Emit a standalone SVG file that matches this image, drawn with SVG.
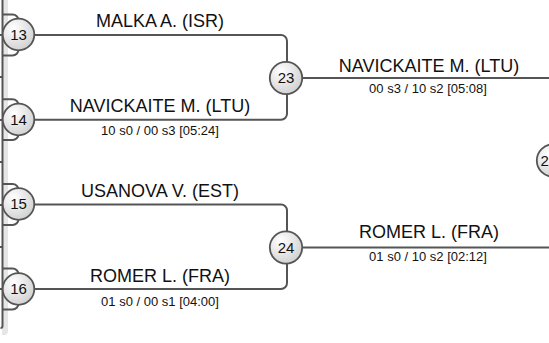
<svg xmlns="http://www.w3.org/2000/svg" width="549" height="343" viewBox="0 0 549 343">
<defs>
<radialGradient id="g" cx="0.35" cy="0.3" r="0.8">
<stop offset="0" stop-color="#ffffff"/>
<stop offset="1" stop-color="#cdcdcd"/>
</radialGradient>
<style>
.ln{fill:none;stroke:#555;stroke-width:2}
.nd circle{fill:url(#g);stroke:#555;stroke-width:1.8}
.num{font-family:"Liberation Sans",Arial,sans-serif;font-size:15px;fill:#111;text-anchor:middle}
.nm{font-family:"Liberation Sans",Arial,sans-serif;font-size:18px;fill:#111;text-anchor:middle}
.sc{font-family:"Liberation Sans",Arial,sans-serif;font-size:13px;fill:#111;text-anchor:middle}
</style>
</defs>
<rect x="0" y="0" width="549" height="343" fill="#fff"/>
<path d="M2 -5 H8 V331 a4 4 0 0 1 -4 4 H2 Z" fill="#e6e6e6"/>
<g id="connectors">
<path class="ln" d="M2.5 0 V326 a2 2 0 0 1 -2 2"/>
<path class="ln" d="M0 35 H2 M0 77 H2 M0 120 H2 M0 162 H2 M0 205 H2 M0 247 H2 M0 289 H2" stroke-width="1.5"/>
<path class="ln" d="M2.5 14.5 H12.5 a6 6 0 0 1 6 6 V35 M2.5 55.5 H12.5 a6 6 0 0 0 6 -6 V35"/>
<path class="ln" d="M2.5 99.2 H12.5 a6 6 0 0 1 6 6 V120 M2.5 140 H12.5 a6 6 0 0 0 6 -6 V120"/>
<path class="ln" d="M2.5 184 H12.5 a6 6 0 0 1 6 6 V205 M2.5 225 H12.5 a6 6 0 0 0 6 -6 V205"/>
<path class="ln" d="M2.5 268.5 H12.5 a6 6 0 0 1 6 6 V289 M2.5 309.5 H12.5 a6 6 0 0 0 6 -6 V289"/>
<path class="ln" d="M18.5 35 H281 a6 6 0 0 1 6 6 V113.7 a6 6 0 0 1 -6 6 H18.5"/>
<path class="ln" d="M18.5 204.5 H281 a6 6 0 0 1 6 6 V283 a6 6 0 0 1 -6 6 H18.5"/>
<path class="ln" d="M286 78 H549 M286 247.5 H549"/>
</g>
<g id="n13" class="nd"><circle cx="18.5" cy="34.5" r="15.8"/><text class="num" x="18.5" y="39.8">13</text></g>
<g id="n14" class="nd"><circle cx="18.5" cy="119.5" r="15.8"/><text class="num" x="18.5" y="124.8">14</text></g>
<g id="n15" class="nd"><circle cx="18.5" cy="204" r="15.8"/><text class="num" x="18.5" y="209.3">15</text></g>
<g id="n16" class="nd"><circle cx="18.5" cy="289" r="15.8"/><text class="num" x="18.5" y="294.3">16</text></g>
<g id="n23" class="nd"><circle cx="286" cy="78" r="16.2"/><text class="num" x="286" y="83.3">23</text></g>
<g id="n24" class="nd"><circle cx="286" cy="247.5" r="16.2"/><text class="num" x="286" y="252.8">24</text></g>
<g id="n2x" class="nd"><circle cx="553" cy="160.5" r="16.2"/><text class="num" x="540.5" y="165.8" style="text-anchor:start">2</text></g>
<g id="labels">
<text class="nm" x="160" y="27">MALKA A. (ISR)</text>
<text class="nm" x="160" y="111.5">NAVICKAITE M. (LTU)</text>
<text class="sc" x="160" y="135">10 s0 / 00 s3 [05:24]</text>
<text class="nm" x="160" y="196.7">USANOVA V. (EST)</text>
<text class="nm" x="160" y="282.3">ROMER L. (FRA)</text>
<text class="sc" x="160" y="305.7">01 s0 / 00 s1 [04:00]</text>
<text class="nm" x="429" y="71.7">NAVICKAITE M. (LTU)</text>
<text class="sc" x="428" y="93.3">00 s3 / 10 s2 [05:08]</text>
<text class="nm" x="429" y="238.3">ROMER L. (FRA)</text>
<text class="sc" x="428" y="261">01 s0 / 10 s2 [02:12]</text>
</g>
</svg>
